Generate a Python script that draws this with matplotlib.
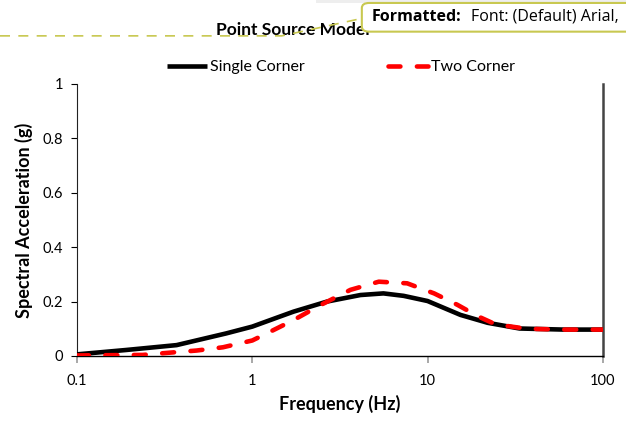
import matplotlib
matplotlib.use("Agg")
import matplotlib.pyplot as plt
from matplotlib.patches import FancyBboxPatch, Rectangle
from matplotlib.lines import Line2D

plt.rcParams['font.family'] = ['Lato', 'DejaVu Sans']

# Data
freq_single = [0.1, 0.19, 0.37, 0.71, 1.0, 1.37, 1.72, 2.67, 4.14, 5.6, 7.3, 10.0,
               15.4, 22.0, 33.5, 60.0, 100.0]
sa_single = [0.006, 0.022, 0.040, 0.083, 0.108, 0.140, 0.163, 0.200, 0.224, 0.230, 0.221, 0.202,
             0.151, 0.122, 0.101, 0.097, 0.097]
freq_two = [0.1, 0.237, 0.35, 0.48, 0.68, 1.0, 1.21, 1.72, 2.45, 3.63, 5.27, 7.65, 10.9,
            14.8, 19.5, 24.5, 37.0, 60.0, 100.0]
sa_two = [0.002, 0.004, 0.013, 0.020, 0.032, 0.057, 0.083, 0.132, 0.187, 0.243, 0.273, 0.267, 0.230,
          0.188, 0.145, 0.116, 0.100, 0.097, 0.097]
x_ticks = [0.1, 1, 10, 100]
x_ticklabels = ["0.1", "1", "10", "100"]
y_ticks = [0, 0.2, 0.4, 0.6, 0.8, 1.0]
y_ticklabels = ["0", "0.2", "0.4", "0.6", "0.8", "1"]

fig = plt.figure(figsize=(6.26, 4.22), dpi=100)
ax = fig.add_axes([0.123, 0.1564, 0.840, 0.645])

ax.plot(freq_single, sa_single, color='black', lw=3.3, solid_capstyle='butt',
        solid_joinstyle='round', label='Single Corner', zorder=3)
ax.plot(freq_two, sa_two, color='#ff0000', lw=3.3, dashes=(2.6, 3.6), dash_capstyle='round',
        dash_joinstyle='round', label='Two Corner', zorder=4)

ax.set_xscale('log')
ax.set_xlim(0.1, 100)
ax.set_ylim(0, 1)
ax.set_xticks(x_ticks)
ax.set_xticklabels(x_ticklabels)
ax.minorticks_off()
ax.set_yticks(y_ticks)
ax.set_yticklabels(y_ticklabels)
ax.tick_params(axis='both', labelsize=10.5, direction='out')
ax.tick_params(axis='y', length=4, color='black', width=0.8, pad=6)
ax.tick_params(axis='x', length=5, color='#999999', width=1.2, pad=8)

ax.spines['top'].set_visible(False)
ax.spines['right'].set_color('#444444')
ax.spines['right'].set_linewidth(1.8)
ax.spines['left'].set_color('#222222')
ax.spines['left'].set_linewidth(0.8)
ax.spines['bottom'].set_color('black')
ax.spines['bottom'].set_linewidth(1.0)

ax.set_xlabel('Frequency (Hz)', fontsize=13, fontweight='bold', labelpad=5)
ax.set_ylabel('Spectral Acceleration (g)', fontsize=13, fontweight='bold', labelpad=7)

leg = fig.legend(loc='center', bbox_to_anchor=(0.545, 0.841), ncol=2, frameon=False,
                 fontsize=11.5, handlelength=2.5, handletextpad=0.2, columnspacing=5.2)

# Title (partly covered by track-changes balloon)
fig.text(0.345, 0.928, 'Point Source Model', ha='left', va='center', fontsize=12.5,
         fontweight='bold', zorder=4)

# Track changes artifacts
fig.add_artist(Rectangle((0.505, 0.992), 0.5, 0.02, transform=fig.transFigure,
                         facecolor='#eeeeee', edgecolor='none', zorder=1))
fig.add_artist(Line2D([0.0, 0.45, 0.58], [0.915, 0.915, 0.957], transform=fig.transFigure,
                      color='#c8c850', lw=1.2, linestyle=(0, (6, 5)), zorder=5))
fig.add_artist(FancyBboxPatch((0.578, 0.925), 0.5, 0.068, transform=fig.transFigure,
                              boxstyle='round,pad=0,rounding_size=0.012',
                              facecolor='white', edgecolor='#c8c850', lw=1.5, zorder=6))
fig.text(0.593, 0.960, 'Formatted:', ha='left', va='center', fontsize=11.5,
         fontweight='bold', family=['Open Sans', 'DejaVu Sans'], zorder=7)
fig.text(0.752, 0.960, 'Font: (Default) Arial,', ha='left', va='center', fontsize=11.5,
         family=['Open Sans', 'DejaVu Sans'], zorder=7)

fig.savefig('out.png', dpi=100)
